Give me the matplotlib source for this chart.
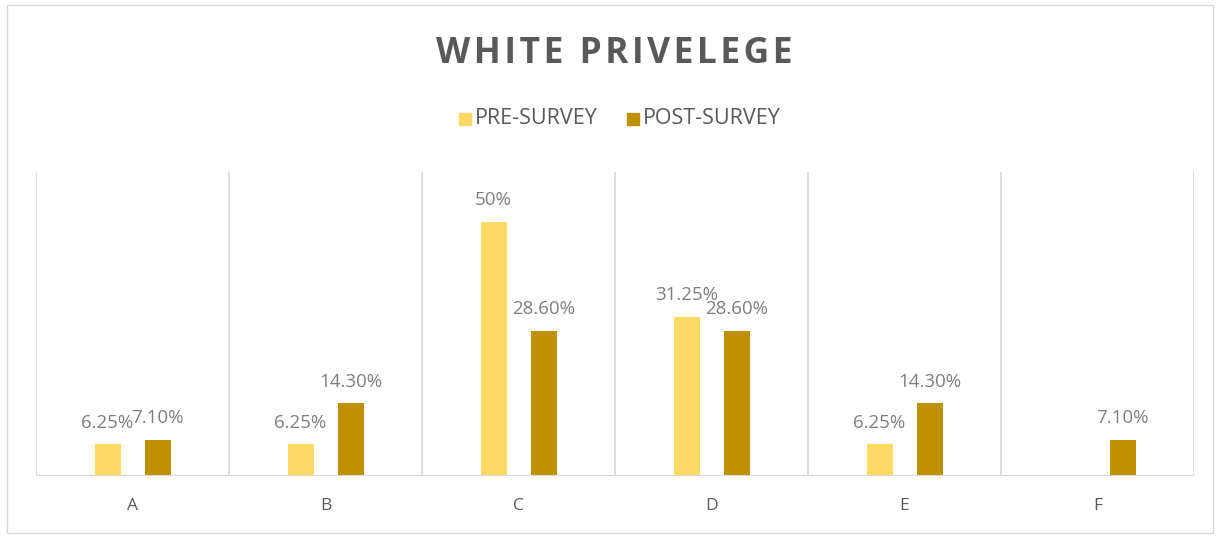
import numpy as np
import matplotlib
matplotlib.use('Agg')
import matplotlib.pyplot as plt
from matplotlib.patches import Rectangle

plt.rcParams['font.family'] = ['Open Sans', 'DejaVu Sans']

categories = ['A', 'B', 'C', 'D', 'E', 'F']
pre = [6.25, 6.25, 50.0, 31.25, 6.25, np.nan]
post = [7.10, 14.30, 28.60, 28.60, 14.30, 7.10]
pre_labels = ['6.25%', '6.25%', '50%', '31.25%', '6.25%', '']
post_labels = ['7.10%', '14.30%', '28.60%', '28.60%', '14.30%', '7.10%']

c_pre = '#FFD966'
c_post = '#BF9000'
grid_c = '#D9D9D9'
txt_c = '#595959'
lab_c = '#7F7F7F'

fig = plt.figure(figsize=(12.18, 5.38), dpi=100)
fig.patches.append(Rectangle((7 / 1218, 5 / 538), 1206 / 1218, 528 / 538,
                             transform=fig.transFigure, fill=False,
                             edgecolor=grid_c, linewidth=1))
ax = fig.add_axes([36 / 1218, 62 / 538, 1158 / 1218, 304 / 538])

x = np.arange(len(categories))
w = 0.135
off = 0.13
ax.bar(x - off + 0.004, pre, w, color=c_pre)
ax.bar(x + off, post, w, color=c_post)

for i in range(len(categories)):
    if not np.isnan(pre[i]):
        ax.text(x[i] - off, pre[i] + 2.5, pre_labels[i], ha='center', va='bottom',
                fontsize=13.5, color=lab_c)
    ax.text(x[i] + off, post[i] + 2.5, post_labels[i], ha='center', va='bottom',
            fontsize=13.5, color=lab_c)

ax.set_xlim(-0.5, len(categories) - 0.5)
ax.set_ylim(0, 59.8)
for b in np.arange(-0.5, len(categories), 1.0):
    ax.axvline(b, color=grid_c, linewidth=1.3, zorder=0)
for s in ax.spines.values():
    s.set_visible(False)
ax.axhline(0, color=grid_c, linewidth=1.5)
ax.set_yticks([])
ax.set_xticks(x)
ax.set_xticklabels(categories, fontsize=12.5, color=txt_c)
ax.tick_params(axis='x', length=0, pad=16)

title = '\u200a'.join('WHITE PRIVELEGE')
fig.text(614 / 1218, 1 - 54 / 538, title,
         ha='center', va='center', fontsize=25.5, fontweight='bold', color=txt_c)

# legend
fig.patches.append(Rectangle((459 / 1218, 1 - 125 / 538), 12 / 1218, 12 / 538,
                             transform=fig.transFigure, color=c_pre))
fig.text(475 / 1218, 1 - 118 / 538, 'PRE-SURVEY', ha='left', va='center',
         fontsize=15.5, color=txt_c)
fig.patches.append(Rectangle((627 / 1218, 1 - 125 / 538), 12 / 1218, 12 / 538,
                             transform=fig.transFigure, color=c_post))
fig.text(643 / 1218, 1 - 118 / 538, 'POST-SURVEY', ha='left', va='center',
         fontsize=15.5, color=txt_c)

fig.savefig('out.png', dpi=100)
